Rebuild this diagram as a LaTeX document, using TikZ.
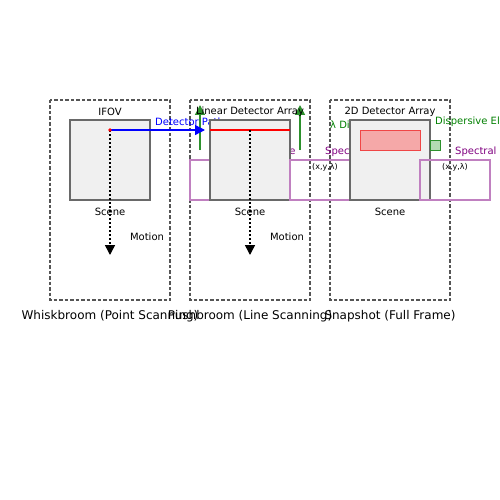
\documentclass[tikz,border=0pt]{standalone}
\usepackage{fontspec}
\setmainfont{DejaVu Sans}
\usetikzlibrary{arrows.meta}
\definecolor{panelgray}{RGB}{85,85,85}
\definecolor{scenefill}{RGB}{240,240,240}
\definecolor{sceneedge}{RGB}{105,105,105}
\definecolor{cubeedge}{RGB}{192,128,192}
\definecolor{cubetext}{RGB}{128,0,128}
\definecolor{greenarrow}{RGB}{45,145,45}
\definecolor{greentext}{RGB}{0,128,0}
\definecolor{redfill}{RGB}{245,168,168}
\definecolor{rededge}{RGB}{240,70,70}
\definecolor{greenfill}{RGB}{180,220,180}
\begin{document}
\begin{tikzpicture}[x=1pt,y=-1pt,>={Triangle[length=10pt,width=10pt]},
    panelbox/.style={draw=panelgray,dash pattern=on 3.5pt off 2pt,line width=1.2pt},
    scenebox/.style={draw=sceneedge,fill=scenefill,line width=1.3pt},
    cubebox/.style={draw=cubeedge,line width=1.3pt},
    lbl/.style={inner sep=0pt,font=\fontsize{10}{12}\selectfont},
    small/.style={inner sep=0pt,font=\fontsize{8}{10}\selectfont},
    ttl/.style={inner sep=0pt,font=\fontsize{12}{14}\selectfont},
    motion/.style={->,dash pattern=on 2pt off 2pt,line width=1.5pt},
    lift/.style={->,draw=greenarrow,fill=greenarrow,line width=1.5pt}]
    \useasboundingbox[fill=white] (0,0) rectangle (500,500);
    % three panels
    \draw[panelbox] (50,100) rectangle (170,300);
    \draw[panelbox] (190,100) rectangle (310,300);
    \draw[panelbox] (330,100) rectangle (450,300);
    % whiskbroom
    \draw[scenebox] (70,120) rectangle (150,200);
    \node[lbl] (ifov) at (110,112) {IFOV};
    \node[lbl] (sceneA) at (110,212) {Scene};
    \node[lbl] (motionA) at (147,237) {Motion};
    \coordinate (pix) at (110,130);
    \coordinate (endA) at (110,255);
    \draw[motion] (pix) -- (endA);
    % green arrows of the line array
    \coordinate (gA) at (200,150); \coordinate (gAt) at (200,105);
    \coordinate (gB) at (300,150); \coordinate (gBt) at (300,105);
    \draw[lift] (gA) -- (gAt);
    \draw[lift] (gB) -- (gBt);
    \coordinate (det) at (205,130);
    \draw[->,blue,line width=1.3pt] (pix) -- (det);
    \fill[red] (pix) circle (1.8);
    \node[lbl,anchor=west,text=blue] (path) at (155,122) {Detector Path};
    \draw[cubebox] (190,160) rectangle (260,200);
    \node[lbl,anchor=west,text=cubetext] (cubeA) at (225,152) {Spectral Cube};
    \node[small] (xylA) at (225,167) {(x,y,λ)};
    % pushbroom
    \draw[scenebox] (210,120) rectangle (290,200);
    \draw[red,line width=1.5pt] (210,130) -- (290,130);
    \node[lbl] (linear) at (250,112) {Linear Detector Array};
    \node[lbl] (sceneB) at (250,212) {Scene};
    \node[lbl] (motionB) at (287,237) {Motion};
    \coordinate (startB) at (250,130);
    \coordinate (endB) at (250,255);
    \draw[motion] (startB) -- (endB);
    \draw[cubebox] (290,160) rectangle (360,200);
    \node[lbl,anchor=west,text=cubetext] (cubeB) at (325,152) {Spectral Cube};
    \node[small] (xylB) at (325,167) {(x,y,λ)};
    \node[lbl,anchor=west,text=greentext] (disp) at (330,126) {λ Dispersion};
    % snapshot
    \draw[scenebox] (350,120) rectangle (430,200);
    \draw[draw=rededge,fill=redfill,line width=1pt] (360,130) rectangle (420,150);
    \node[lbl] (array) at (390,112) {2D Detector Array};
    \node[lbl] (sceneC) at (390,212) {Scene};
    \draw[draw=greenarrow,fill=greenfill,line width=1pt] (430,140) rectangle (440,150);
    \node[lbl,anchor=west,text=greentext] (elem) at (435,122) {Dispersive Element};
    \draw[cubebox] (420,160) rectangle (490,200);
    \node[lbl,anchor=west,text=cubetext] (cubeC) at (455,152) {Spectral Cube};
    \node[small] (xylC) at (455,167) {(x,y,λ)};
    % titles
    \node[ttl] (whisk) at (110,316) {Whiskbroom (Point Scanning)};
    \node[ttl] (push) at (250,316) {Pushbroom (Line Scanning)};
    \node[ttl] (snap) at (390,316) {Snapshot (Full Frame)};
\end{tikzpicture}
\end{document}
